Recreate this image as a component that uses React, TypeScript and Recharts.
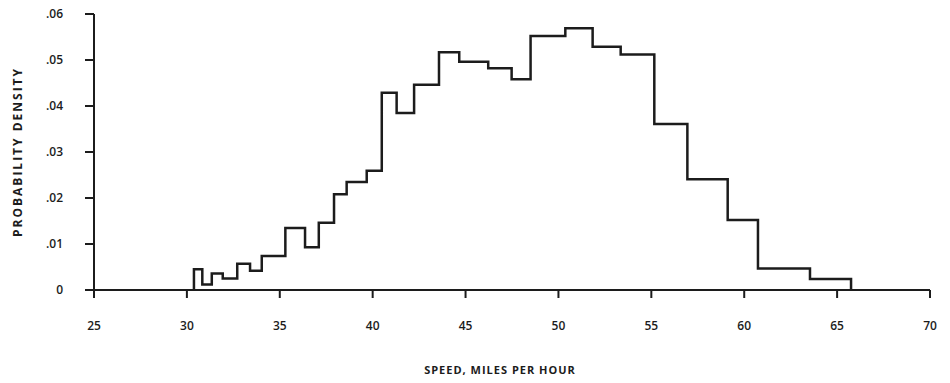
import { Line, LineChart, XAxis, YAxis } from "recharts";

// bin edges (mph) and densities
const binEdges = [
  30.38, 30.83, 31.34, 31.93, 32.71, 33.4, 34.03, 35.3, 36.36, 37.1, 37.92, 38.6, 39.68, 40.49, 41.29,
  42.23, 43.57, 44.66, 46.22, 47.48, 48.5, 50.37, 51.84, 53.35, 55.16, 56.94, 59.11, 60.74, 63.54, 65.75,
];
const densities = [
  0.0045, 0.0012, 0.0036, 0.0025, 0.0057, 0.0042, 0.0074, 0.0135, 0.0093, 0.0146, 0.0208, 0.0235, 0.0259,
  0.0429, 0.0385, 0.0446, 0.0517, 0.0496, 0.0482, 0.0458, 0.0552, 0.0569, 0.0529, 0.0512, 0.0361, 0.0241,
  0.0152, 0.0047, 0.0024,
];
const speedTicks = [25, 30, 35, 40, 45, 50, 55, 60, 65, 70];
const densityTicks = [0, 0.01, 0.02, 0.03, 0.04, 0.05, 0.06];

const ink = "#1c1c1c";
const font = "'Open Sans', sans-serif";

// stepAfter: each edge carries the height of the bin that starts there
const steps = [
  { speed: binEdges[0], density: 0 },
  ...binEdges.map((speed, i) => ({ speed, density: i < densities.length ? densities[i] : 0 })),
];

const formatDensity = (v: number) => (v === 0 ? "0" : `.${Math.round(v * 100).toString().padStart(2, "0")}`);

export default function App() {
  return (
    <div style={{ position: "absolute", left: 0, top: 0, background: "#fff" }}>
      <LineChart width={950} height={383} data={steps} margin={{ top: 14, right: 20, bottom: 63, left: 0 }}>
        <XAxis
          dataKey="speed"
          type="number"
          domain={[25, 70]}
          ticks={speedTicks}
          height={30}
          tickSize={8}
          tickMargin={23}
          axisLine={{ stroke: ink, strokeWidth: 2 }}
          tickLine={{ stroke: ink, strokeWidth: 2 }}
          tick={{ fontSize: 12, fill: ink, fontFamily: font, fontWeight: 600 }}
          label={{
            value: "SPEED, MILES PER HOUR",
            position: "bottom",
            offset: 46,
            dx: -12,
            style: { fontSize: 11, fill: ink, fontFamily: font, fontWeight: 700, letterSpacing: 1 },
          }}
        />
        <YAxis
          type="number"
          domain={[0, 0.06]}
          ticks={densityTicks}
          width={94}
          tickSize={9}
          tickMargin={22}
          tickFormatter={formatDensity}
          axisLine={{ stroke: ink, strokeWidth: 2 }}
          tickLine={{ stroke: ink, strokeWidth: 2 }}
          tick={{ fontSize: 12, fill: ink, fontFamily: font, fontWeight: 600 }}
          label={{
            value: "PROBABILITY DENSITY",
            angle: -90,
            position: "insideLeft",
            offset: 18,
            style: { fontSize: 12, fill: ink, fontFamily: font, fontWeight: 700, letterSpacing: 2, textAnchor: "middle" },
          }}
        />
        <Line
          type="stepAfter"
          dataKey="density"
          stroke={ink}
          strokeWidth={2.5}
          dot={false}
          isAnimationActive={false}
        />
      </LineChart>
    </div>
  );
}
